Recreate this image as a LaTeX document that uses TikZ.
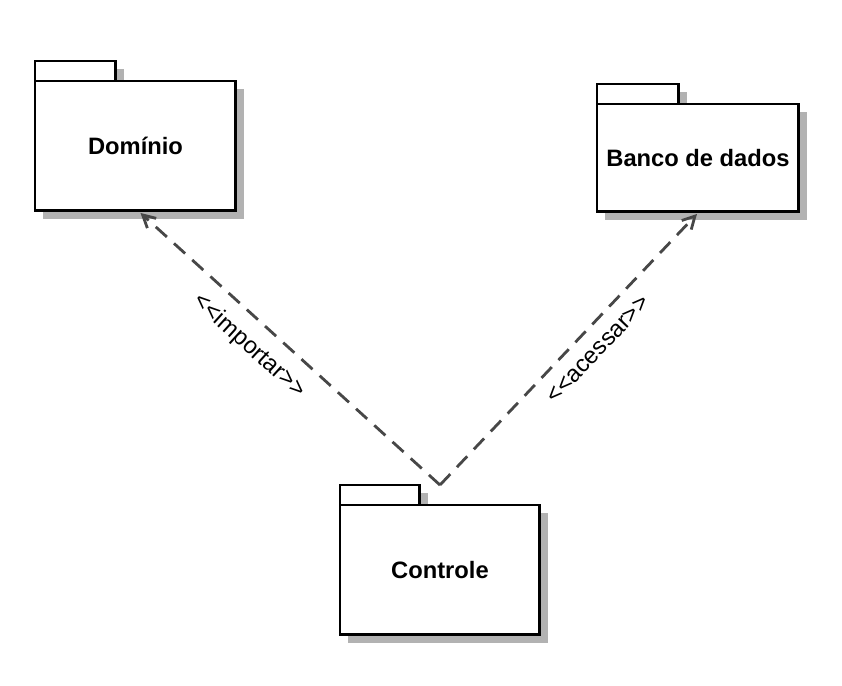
\documentclass[tikz,border=0pt]{standalone}
\usepackage{fontspec}
\newfontfamily\umlfont{Liberation Sans}
\usetikzlibrary{arrows.meta}
\usetikzlibrary{positioning}
\usetikzlibrary{shadows}

\begin{document}
\begin{tikzpicture}[x=0.02cm,y=-0.02cm,
  shade box/.style={drop shadow={shadow xshift=0.16cm,shadow yshift=-0.16cm,fill=black!30,opacity=1}},
  tab/.style={draw,line width=1.7pt,fill=white,minimum height=0.4cm,inner sep=0pt,outer sep=0pt,shade box},
  pkg/.style={draw,line width=1.7pt,fill=white,inner sep=0pt,outer sep=0pt,shade box,font=\umlfont\bfseries\fontsize{13.5}{16}\selectfont},
  dep/.style={draw=black!72,line width=1.6pt,dash pattern=on 8.5pt off 5.5pt,-{Straight Barb[length=7pt,width=7.5pt]}},
  lbl/.style={font=\umlfont\fontsize{13.5}{16}\selectfont,sloped,inner sep=1pt}]

\useasboundingbox (0,0) rectangle (842,686);

% packages
\node[tab,minimum width=1.62cm,anchor=north west] (domtab) at (35,61) {};
\node[pkg,minimum width=4.02cm,minimum height=2.6cm,below right=0pt of domtab.south west] (dom) {Domínio};

\node[tab,minimum width=1.64cm,anchor=north west] (bantab) at (597,84) {};
\node[pkg,minimum width=4.04cm,minimum height=2.16cm,below right=0pt of bantab.south west] (ban) {Banco de dados};

\node[tab,minimum width=1.6cm,anchor=north west] (ctrltab) at (340,485) {};
\node[pkg,minimum width=4cm,minimum height=2.6cm,below right=0pt of ctrltab.south west] (ctrl) {Controle};

% dependencies
\coordinate (apex) at ([yshift=0.4cm]ctrl.north);

\draw[dep] (apex) -- node[lbl,below=6.5pt,pos=0.58]{<<importar>>} ([xshift=0.1cm,yshift=-0.04cm]dom.south);
\draw[dep] (apex) -- node[lbl,below=6.5pt,pos=0.555]{<<acessar>>} ([xshift=-0.02cm,yshift=-0.04cm]ban.south);

\end{tikzpicture}
\end{document}
